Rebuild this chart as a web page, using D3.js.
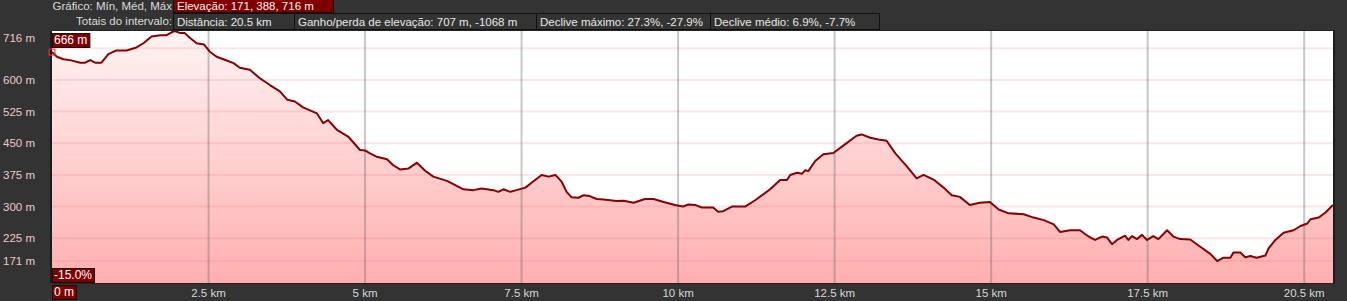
<!DOCTYPE html>
<html lang="pt">
<head>
  <meta charset="UTF-8">
  <title>Perfil de elevação</title>
  <script src="https://d3js.org/d3.v7.min.js"></script>
  <style>
    body {
      margin: 0;
      background-color: #333333;
      font-family: 'Liberation Sans', Arial, sans-serif;
    }
    svg {
      display: block;
    }
    .hdr {
      font-size: 11.5px;
      fill: #dcdcdc;
    }
    .ylab {
      font-size: 11.5px;
      fill: #f0c8c8;
    }
    .xlab {
      font-size: 11.5px;
      fill: #d8d8d8;
    }
  </style>
</head>
<body>
  <svg width="1347" height="301"></svg>

  <script>
    // perfil: distância (km) e elevação (m)
    const distKm = [
      0, 0.08, 0.18, 0.29, 0.45, 0.53, 0.61, 0.69, 0.79, 0.90, 1.03, 1.19, 1.35, 1.46,
      1.59, 1.73, 1.83, 1.91, 1.96, 2.05, 2.12, 2.20, 2.31, 2.43, 2.52, 2.63, 2.79,
      2.90, 3.00, 3.16, 3.32, 3.48, 3.64, 3.76, 3.88, 4.01, 4.23, 4.33, 4.41, 4.55,
      4.73, 4.92, 5.00, 5.08, 5.19, 5.35, 5.45, 5.56, 5.69, 5.83, 5.96, 6.09, 6.31,
      6.57, 6.73, 6.86, 7.05, 7.13, 7.21, 7.32, 7.42, 7.56, 7.69, 7.82, 7.93, 8.04,
      8.14, 8.22, 8.30, 8.41, 8.49, 8.59, 8.70, 8.81, 9.02, 9.13, 9.29, 9.47, 9.61,
      9.77, 9.95, 10.08, 10.16, 10.27, 10.38, 10.56, 10.64, 10.72, 10.86, 11.07,
      11.23, 11.47, 11.63, 11.74, 11.79, 11.90, 11.98, 12.03, 12.08, 12.19, 12.32,
      12.48, 12.67, 12.85, 12.93, 13.07, 13.20, 13.33, 13.47, 13.65, 13.81, 13.92,
      14.08, 14.24, 14.37, 14.50, 14.66, 14.82, 14.98, 15.12, 15.28, 15.52, 15.68,
      15.84, 16.00, 16.10, 16.26, 16.42, 16.50, 16.58, 16.66, 16.77, 16.85, 16.93,
      17.01, 17.14, 17.19, 17.25, 17.33, 17.41, 17.49, 17.59, 17.67, 17.81, 17.91,
      18.02, 18.18, 18.34, 18.50, 18.61, 18.71, 18.82, 18.87, 18.98, 19.06, 19.14,
      19.24, 19.38, 19.43, 19.54, 19.67, 19.83, 19.94, 20.05, 20.10, 20.23, 20.34,
      20.46
    ];
    const elevM = [
      666, 655, 649, 647, 641, 641, 647, 641, 641, 661, 670, 670, 677, 687,
      703, 706, 706, 713, 716, 711, 711, 700, 687, 684, 667, 655, 646,
      640, 629, 624, 604, 588, 573, 553, 549, 535, 521, 498, 505, 482,
      466, 434, 433, 426, 418, 412, 398, 388, 390, 404, 385, 371, 361,
      341, 339, 343, 339, 335, 341, 335, 339, 345, 360, 375, 371, 375,
      359, 335, 322, 321, 327, 325, 318, 317, 313, 314, 309, 318, 318,
      311, 304, 300, 305, 304, 298, 298, 288, 289, 300, 300,
      315, 341, 363, 363, 375, 380, 378, 386, 384, 408, 424,
      427, 448, 468, 471, 463, 459, 456, 426, 396, 367, 375,
      364, 345, 327, 323, 304, 309, 311, 293, 284, 282, 274,
      268, 258, 240, 244, 244, 235, 227, 221, 229, 227, 211,
      221, 231, 221, 230, 223, 233, 221, 230, 223, 244, 229,
      223, 222, 205, 188, 171, 179, 179, 191, 191, 180, 183,
      179, 184, 201, 221, 238, 244, 254, 260, 270, 274, 286,
      304
    ];

    const yLabelValues = [716, 600, 525, 450, 375, 300, 225, 171];
    const yGridValues = [675, 600, 525, 450, 375, 300, 225, 171];
    const xTickValues = [0, 2.5, 5, 7.5, 10, 12.5, 15, 17.5, 20];
    const xTickLabels = ["0 m", "2.5 km", "5 km", "7.5 km", "10 km", "12.5 km", "15 km", "17.5 km", "20.5 km"];

    const statsRow1 = ["Elevação: 171, 388, 716 m"];
    const statsRow2 = [
      "Distância: 20.5 km",
      "Ganho/perda de elevação: 707 m, -1068 m",
      "Declive máximo: 27.3%, -27.9%",
      "Declive médio: 6.9%, -7.7%"
    ];
    const cursorElev = 666;
    const slopeLabel = "-15.0%";

    const svg = d3.select("svg");
    const plot = {left: 52, right: 1333, top: 31, bottom: 283};

    const x = d3.scaleLinear()
      .domain([0, 20.46])
      .range([plot.left, plot.right]);

    const y = d3.scaleLinear()
      .domain([119, 716])
      .range([plot.bottom, plot.top]);

    const data = distKm.map((d, i) => ({km: d, m: elevM[i]}));

    // fundo da área do gráfico
    svg.append("rect")
      .attr("x", plot.left)
      .attr("y", plot.top)
      .attr("width", plot.right - plot.left)
      .attr("height", plot.bottom - plot.top)
      .attr("fill", "#ffffff");

    const defs = svg.append("defs");
    const grad = defs.append("linearGradient")
      .attr("id", "fillGrad")
      .attr("gradientUnits", "userSpaceOnUse")
      .attr("x1", 0).attr("x2", 0)
      .attr("y1", plot.top).attr("y2", plot.bottom);
    grad.append("stop").attr("offset", "0%").attr("stop-color", "#fff3f3");
    grad.append("stop").attr("offset", "100%").attr("stop-color", "#ffafaf");

    const area = d3.area()
      .x(d => x(d.km))
      .y0(plot.bottom)
      .y1(d => y(d.m));

    svg.append("path")
      .datum(data)
      .attr("fill", "url(#fillGrad)")
      .attr("d", area);

    // linhas de grelha
    svg.append("g")
      .selectAll("line")
      .data(yGridValues)
      .enter().append("line")
        .attr("x1", plot.left)
        .attr("x2", plot.right)
        .attr("y1", d => y(d))
        .attr("y2", d => y(d))
        .attr("stroke", "rgba(235,110,110,0.18)")
        .attr("stroke-width", 2);

    svg.append("g")
      .selectAll("line")
      .data(xTickValues.slice(1))
      .enter().append("line")
        .attr("x1", d => x(d))
        .attr("x2", d => x(d))
        .attr("y1", plot.top)
        .attr("y2", plot.bottom)
        .attr("stroke", "rgba(100,100,100,0.36)")
        .attr("stroke-width", 2);

    const line = d3.line()
      .x(d => x(d.km))
      .y(d => y(d.m));

    svg.append("path")
      .datum(data)
      .attr("fill", "none")
      .attr("stroke", "#880000")
      .attr("stroke-width", 2)
      .attr("stroke-linejoin", "round")
      .attr("d", line);

    // bordas
    svg.append("line")
      .attr("x1", plot.left - 1).attr("x2", plot.left - 1)
      .attr("y1", plot.top).attr("y2", plot.bottom)
      .attr("stroke", "#1c1c1c").attr("stroke-width", 2);
    svg.append("line")
      .attr("x1", plot.right + 1).attr("x2", plot.right + 1)
      .attr("y1", plot.top - 1).attr("y2", plot.bottom + 1)
      .attr("stroke", "#1c1c1c").attr("stroke-width", 2);
    svg.append("line")
      .attr("x1", plot.left).attr("x2", plot.right + 2)
      .attr("y1", plot.top - 0.5).attr("y2", plot.top - 0.5)
      .attr("stroke", "#222").attr("stroke-width", 1);
    svg.append("line")
      .attr("x1", plot.left).attr("x2", plot.right)
      .attr("y1", plot.bottom + 0.5).attr("y2", plot.bottom + 0.5)
      .attr("stroke", "#222").attr("stroke-width", 1);

    // rótulos do eixo y
    svg.append("g")
      .selectAll("text")
      .data(yLabelValues)
      .enter().append("text")
        .attr("class", "ylab")
        .attr("x", 3)
        .attr("y", d => Math.max(y(d), plot.top + 7) + 4)
        .text(d => `${d} m`);

    // rótulos do eixo x
    const xl = svg.append("g");
    xTickValues.forEach((v, i) => {
      if (i === 0) return;
      const t = xl.append("text")
        .attr("class", "xlab")
        .attr("x", x(v))
        .attr("y", 297)
        .attr("text-anchor", "middle")
        .text(xTickLabels[i]);
      const w = t.node().getComputedTextLength();
      if (x(v) + w / 2 > plot.right) {
        t.attr("text-anchor", "end").attr("x", plot.right);
      }
    });

    function labelBox(px, py, txt, h) {
      const g = svg.append("g");
      const r = g.append("rect")
        .attr("x", px + 0.5).attr("y", py + 0.5)
        .attr("height", h)
        .attr("fill", "#800000")
        .attr("stroke", "#111");
      const t = g.append("text")
        .attr("x", px + 2)
        .attr("y", py + h - 3)
        .attr("fill", "#ffffff")
        .style("font-size", "12px")
        .text(txt);
      r.attr("width", t.node().getComputedTextLength() + 4);
    }

    labelBox(plot.left, plot.top + 2, `${cursorElev} m`, 14);
    labelBox(plot.left, plot.bottom - 15, slopeLabel, 14);
    labelBox(plot.left, plot.bottom + 2, xTickLabels[0], 14);

    // marcador do cursor
    svg.append("rect")
      .attr("x", x(distKm[0]) - 3)
      .attr("y", y(cursorElev) - 3)
      .attr("width", 6)
      .attr("height", 6)
      .attr("fill", "none")
      .attr("stroke", "#ff2a2a")
      .attr("stroke-width", 1);

    // cabeçalho
    svg.append("text")
      .attr("class", "hdr")
      .attr("x", 172)
      .attr("y", 10)
      .attr("text-anchor", "end")
      .text("Gráfico: Mín, Méd, Máx");
    svg.append("text")
      .attr("class", "hdr")
      .attr("x", 172)
      .attr("y", 25)
      .attr("text-anchor", "end")
      .text("Totais do intervalo:");

    svg.append("rect")
      .attr("x", 173.5).attr("y", -0.5)
      .attr("width", 160).attr("height", 13)
      .attr("fill", "#800000")
      .attr("stroke", "#111");
    svg.append("text")
      .attr("x", 177)
      .attr("y", 10)
      .attr("fill", "#f4f4f4")
      .style("font-size", "11.5px")
      .text(statsRow1[0]);

    const boxEdges = [173, 294, 536, 710, 879];
    statsRow2.forEach((s, i) => {
      svg.append("rect")
        .attr("x", boxEdges[i] + 0.5).attr("y", 13.5)
        .attr("width", boxEdges[i + 1] - boxEdges[i]).attr("height", 16)
        .attr("fill", "#333333")
        .attr("stroke", "#111");
      svg.append("text")
        .attr("x", boxEdges[i] + 4)
        .attr("y", 25.5)
        .attr("fill", "#e8e8e8")
        .style("font-size", "11.5px")
        .text(s);
    });
  </script>
</body>
</html>
